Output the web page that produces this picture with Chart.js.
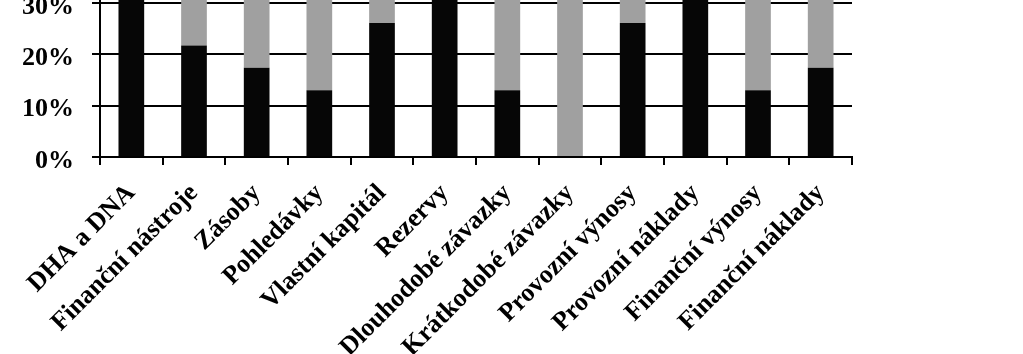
<!DOCTYPE html>
<html>
<head>
<meta charset="utf-8">
<script src="https://cdn.jsdelivr.net/npm/chart.js@4.4.1/dist/chart.umd.min.js"></script>
<style>
  html, body { margin: 0; padding: 0; background: #fff; }
  #wrap { position: relative; width: 1023px; height: 354px; overflow: hidden; }
  #chart { position: absolute; left: 0; top: -390px; }
</style>
</head>
<body>
<div id="wrap">
  <canvas id="chart" width="1023" height="744"></canvas>
</div>
<script>
// categories along the x axis
const categories = [
    'DHA a DNA', 'Finanční nástroje', 'Zásoby', 'Pohledávky', 'Vlastní kapitál', 'Rezervy',
    'Dlouhodobé závazky', 'Krátkodobé závazky', 'Provozní výnosy', 'Provozní náklady',
    'Finanční výnosy', 'Finanční náklady'
];

// share of each category in percent (black = lower part, grey = upper part)
const blackShare = [39.1, 21.7, 17.4, 13.0, 26.1, 34.8, 13.0, 0, 26.1, 43.5, 13.0, 17.4];
const greyShare = [60.9, 78.3, 82.6, 87.0, 73.9, 65.2, 87.0, 100, 73.9, 56.5, 87.0, 82.6];

const labelFont = { family: '"Liberation Serif", "Times New Roman", serif', weight: 'bold' };

const ctx = document.getElementById('chart').getContext('2d');

new Chart(ctx, {
    type: 'bar',
    data: {
        labels: categories,
        datasets: [
            { data: blackShare, backgroundColor: '#060606', barPercentage: 0.41, categoryPercentage: 1 },
            { data: greyShare, backgroundColor: '#a0a0a0', barPercentage: 0.41, categoryPercentage: 1 }
        ]
    },
    options: {
        responsive: false,
        animation: false,
        devicePixelRatio: 1,
        layout: { padding: { top: 17, right: 171, left: 0, bottom: 0 } },
        plugins: {
            legend: { display: false },
            tooltip: { enabled: false }
        },
        scales: {
            x: {
                stacked: true,
                grid: { display: true, drawOnChartArea: false, color: '#000', lineWidth: 2, tickLength: 8, offset: true },
                border: { color: '#000', width: 2 },
                ticks: {
                    color: '#000',
                    font: { ...labelFont, size: 26 },
                    minRotation: 45,
                    maxRotation: 45,
                    autoSkip: false,
                    padding: 13
                },
                afterFit: function(scale) { scale.height = 197; }
            },
            y: {
                stacked: true,
                min: 0,
                max: 100,
                grid: { color: '#000', lineWidth: 2, tickLength: 8 },
                border: { color: '#000', width: 2 },
                ticks: {
                    stepSize: 10,
                    color: '#000',
                    font: { ...labelFont, size: 26 },
                    padding: 18,
                    labelOffset: 4,
                    callback: function(value) { return value + '%'; }
                },
                afterFit: function(scale) { scale.width = 100; }
            }
        }
    }
});
</script>
</body>
</html>
